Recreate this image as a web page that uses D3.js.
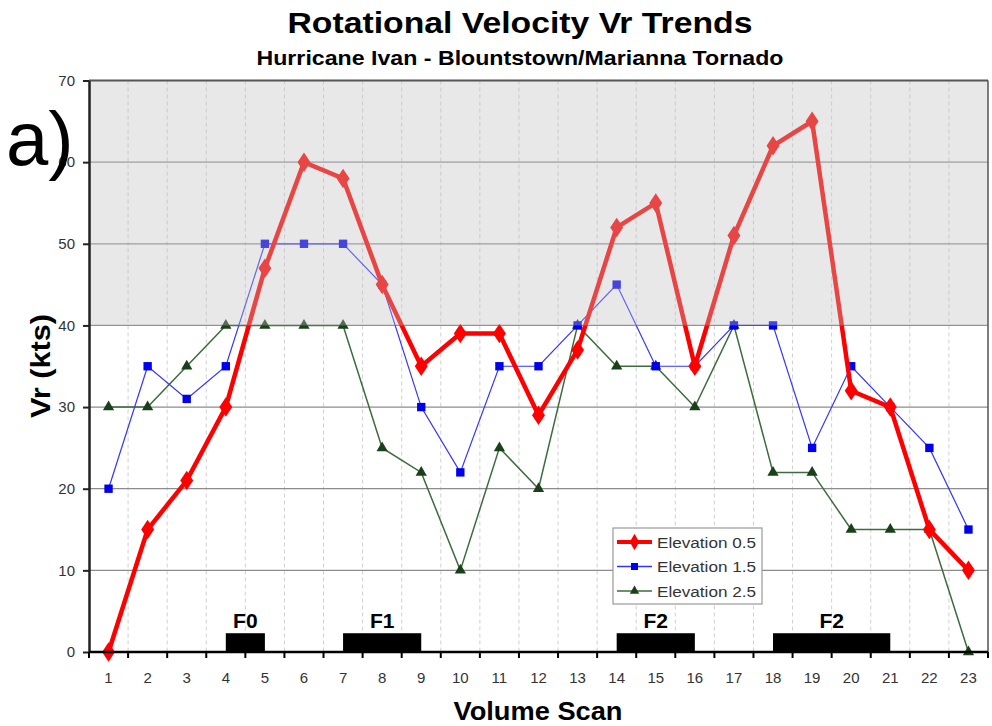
<!DOCTYPE html>
<html>
<head>
<meta charset="utf-8">
<script src="https://cdn.jsdelivr.net/npm/d3@7"></script>
<style>
  body { margin: 0; background: #fff; }
  text { font-family: "Liberation Sans", Arial, sans-serif; }
</style>
</head>
<body>
<svg id="chart" width="992" height="726"></svg>
<script>
var scans = d3.range(1, 24)

var elev05 = [0, 15, 21, 30, 47, 60, 58, 45, 35, 39, 39, 29, 37, 52, 55, 35, 51, 62, 65, 32, 30, 15, 10]
var elev15 = [20, 35, 31, 35, 50, 50, 50, 45, 30, 22, 35, 35, 40, 45, 35, 35, 40, 40, 25, 35, 30, 25, 15]
var elev25 = [30, 30, 35, 40, 40, 40, 40, 25, 22, 10, 25, 20, 40, 35, 35, 30, 40, 22, 22, 15, 15, 15, 0]

var seriesNames = ["Elevation 0.5", "Elevation 1.5", "Elevation 2.5"]
var yTicks = [0, 10, 20, 30, 40, 50, 60, 70]

// tornado rating bars: from scan, to scan, label
var ratingFrom = [4, 7, 14, 18]
var ratingTo = [5, 9, 16, 21]
var ratingLabel = ["F0", "F1", "F2", "F2"]
var ratingHeight = 2.3

var shadeFrom = 40, shadeTo = 70

var svg = d3.select("svg#chart")
var plotLeft = 89, plotRight = 988, plotTop = 80.5, plotBottom = 652

var x = d3.scaleBand().domain(scans).range([plotLeft, plotRight])
var xc = function (s) { return x(s) + x.bandwidth() / 2 }
var y = d3.scaleLinear().domain([0, 70]).range([plotBottom, plotTop])

// titles
svg.append("text").attr("x", 520).attr("y", 33).attr("text-anchor", "middle")
    .attr("textLength", 465).attr("lengthAdjust", "spacingAndGlyphs")
    .style("font-size", "29px").style("font-weight", "bold").text("Rotational Velocity Vr Trends")
svg.append("text").attr("x", 520).attr("y", 65).attr("text-anchor", "middle")
    .attr("textLength", 527).attr("lengthAdjust", "spacingAndGlyphs")
    .style("font-size", "20px").style("font-weight", "bold").text("Hurricane Ivan - Blountstown/Marianna Tornado")

// vertical dashed grid at category boundaries
svg.append("g").selectAll("line").data(scans.slice(1)).enter().append("line")
    .attr("x1", d => x(d)).attr("x2", d => x(d))
    .attr("y1", plotTop).attr("y2", plotBottom)
    .attr("stroke", "#d0d0d0").attr("stroke-dasharray", "4,3").attr("stroke-width", 1)

// horizontal grid
svg.append("g").selectAll("line").data(yTicks.slice(1, -1)).enter().append("line")
    .attr("x1", plotLeft).attr("x2", plotRight)
    .attr("y1", d => y(d)).attr("y2", d => y(d))
    .attr("stroke", "#8c8c8c").attr("stroke-width", 1.3)

// tornado bars
ratingFrom.forEach(function (f, i) {
    svg.append("rect")
        .attr("x", xc(f)).attr("width", xc(ratingTo[i]) - xc(f))
        .attr("y", y(ratingHeight)).attr("height", y(0) - y(ratingHeight))
        .attr("fill", "#000")
    svg.append("text")
        .attr("x", (xc(f) + xc(ratingTo[i])) / 2).attr("y", y(ratingHeight) - 5)
        .attr("text-anchor", "middle").style("font-size", "21px").style("font-weight", "bold")
        .text(ratingLabel[i])
})

var line = d3.line().x((d, i) => xc(scans[i])).y(d => y(d))

var styles = [
    { data: elev05, color: "#ff0000", width: 4.5, marker: d3.symbolDiamond, size: 110, mcolor: "#ff0000" },
    { data: elev15, color: "#3333ff", width: 1.2, marker: d3.symbolSquare, size: 70, mcolor: "#0000ee" },
    { data: elev25, color: "#3d6b3d", width: 1.5, marker: d3.symbolTriangle, size: 55, mcolor: "#1a401a" }
]

// draw back to front: 2.5, 1.5, 0.5
styles.slice().reverse().forEach(function (s) {
    svg.append("path").datum(s.data).attr("d", line)
        .attr("fill", "none").attr("stroke", s.color).attr("stroke-width", s.width)
        .attr("stroke-linejoin", "miter")
    svg.append("g").selectAll("path").data(s.data).enter().append("path")
        .attr("d", d3.symbol().type(s.marker).size(s.size))
        .attr("transform", (d, i) => "translate(" + xc(scans[i]) + "," + y(d) + ")" + (s.marker === d3.symbolDiamond ? " scale(1.15,1)" : ""))
        .attr("fill", s.mcolor)
})

// shaded band over the lines
svg.append("rect")
    .attr("x", plotLeft).attr("width", plotRight - plotLeft)
    .attr("y", y(shadeTo)).attr("height", y(shadeFrom) - y(shadeTo))
    .attr("fill", "rgb(190,190,190)").attr("fill-opacity", 0.36)

// frame
svg.append("line").attr("x1", plotLeft).attr("x2", plotRight).attr("y1", plotTop).attr("y2", plotTop)
    .attr("stroke", "#555").attr("stroke-width", 2)
svg.append("line").attr("x1", plotRight).attr("x2", plotRight).attr("y1", plotTop).attr("y2", plotBottom)
    .attr("stroke", "#555").attr("stroke-width", 1.5)

// y axis
var yAxis = svg.append("g").attr("transform", "translate(" + plotLeft + ",0)")
    .call(d3.axisLeft(y).tickValues(yTicks).tickSize(6).tickSizeOuter(0).tickPadding(8))
yAxis.select(".domain").attr("stroke", "#222").attr("stroke-width", 2.5)
yAxis.selectAll(".tick line").attr("stroke", "#222").attr("stroke-width", 2)
yAxis.selectAll("text").style("font-size", "15px").attr("fill", "#333")
    .style("font-family", "'Liberation Sans', Arial, sans-serif")

// x axis: ticks at category boundaries
var xAxis = svg.append("g").attr("transform", "translate(0," + plotBottom + ")")
xAxis.append("line").attr("x1", plotLeft).attr("x2", plotRight).attr("stroke", "#000").attr("stroke-width", 2.5)
xAxis.selectAll(".tk").data(scans.concat([24])).enter().append("line")
    .attr("x1", d => d === 24 ? plotRight : x(d)).attr("x2", d => d === 24 ? plotRight : x(d))
    .attr("y1", 0).attr("y2", 6).attr("stroke", "#000").attr("stroke-width", 2)
xAxis.selectAll(".lbl").data(scans).enter().append("text")
    .attr("x", d => xc(d)).attr("y", 31).attr("text-anchor", "middle")
    .style("font-size", "15px").attr("fill", "#333").text(d => d)

// axis titles
svg.append("text").attr("x", 538).attr("y", 720).attr("text-anchor", "middle")
    .attr("textLength", 169).attr("lengthAdjust", "spacingAndGlyphs")
    .style("font-size", "25px").style("font-weight", "bold").text("Volume Scan")
svg.append("text").attr("transform", "translate(50,366) rotate(-90)").attr("text-anchor", "middle")
    .attr("textLength", 104).attr("lengthAdjust", "spacingAndGlyphs")
    .style("font-size", "28px").style("font-weight", "bold").text("Vr (kts)")

// panel letter
svg.append("text").attr("x", 6).attr("y", 165).style("font-size", "76px").text("a)")

// legend
var lg = svg.append("g").attr("transform", "translate(613,528)")
lg.append("rect").attr("width", 149).attr("height", 76).attr("fill", "#fff")
    .attr("stroke", "#999").attr("stroke-width", 1.2)
styles.forEach(function (s, i) {
    var ly = 14 + i * 24.5
    lg.append("line").attr("x1", 4).attr("x2", 39).attr("y1", ly).attr("y2", ly)
        .attr("stroke", s.color).attr("stroke-width", s.width === 4.5 ? 4 : 1.5)
    lg.append("path").attr("d", d3.symbol().type(s.marker).size(s.size * 0.7))
        .attr("transform", "translate(21.5," + ly + ")").attr("fill", s.mcolor)
    lg.append("text").attr("x", 44).attr("y", ly + 5.5).style("font-size", "15.5px").attr("fill", "#333")
        .attr("textLength", 99).attr("lengthAdjust", "spacingAndGlyphs")
        .text(seriesNames[i])
})
</script>
</body>
</html>
